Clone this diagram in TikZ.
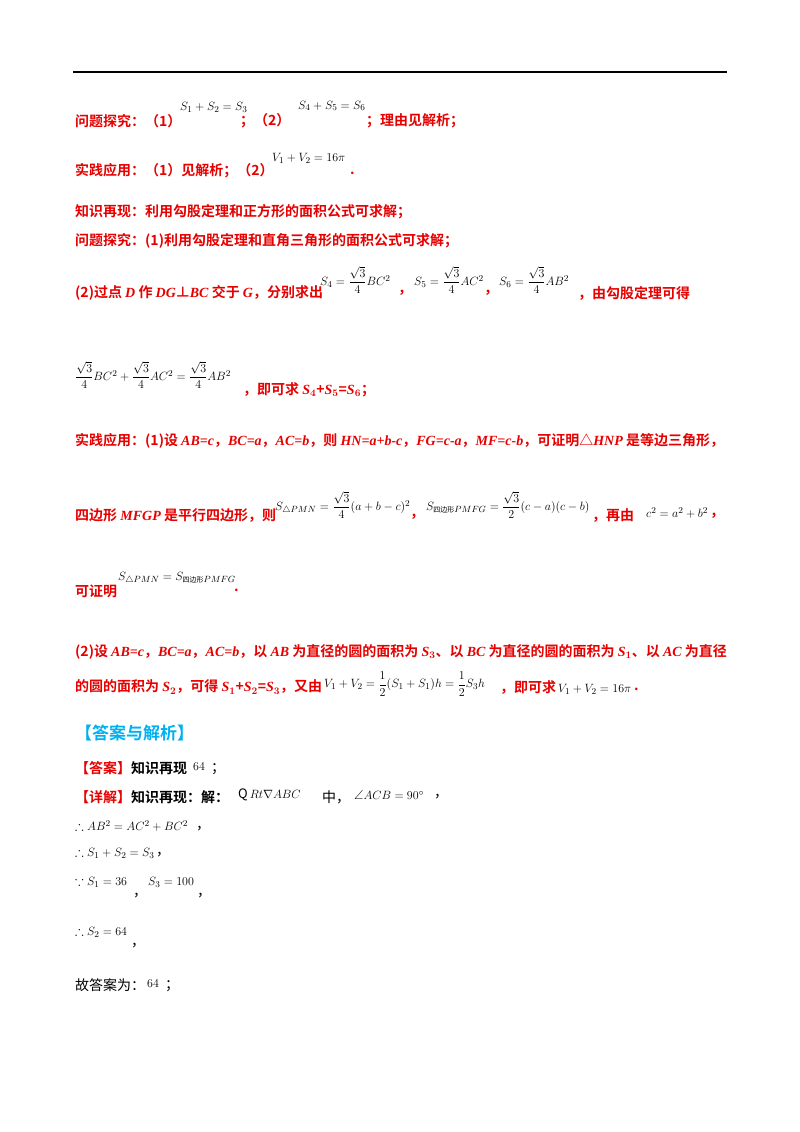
\documentclass[tikz,border=0pt]{standalone}
\usepackage{amsmath,amssymb}
\usepackage{fontspec}
\setmainfont{Noto Sans CJK SC}[BoldFont={* Bold}]
\newfontfamily\tms{Liberation Serif}
\definecolor{ansred}{RGB}{230,0,0}
\definecolor{ansblue}{RGB}{0,176,240}
\newcommand{\en}[1]{{\tms\bfseries\itshape #1}}
\tikzset{
  txt/.style = {anchor = west, inner sep = 0pt, text = ansred, font = \fontsize{14}{16}\selectfont\bfseries},
  plain/.style = {anchor = west, inner sep = 0pt, text = black, font = \fontsize{14}{16}\selectfont},
  frm/.style = {anchor = west, inner sep = 0pt, text = black, font = \fontsize{13}{15}\selectfont}
}
\begin{document}
\begin{tikzpicture}[x = 1pt, y = -1pt]

	% Page frame and top rule

	\useasboundingbox (0, 0) rectangle (800, 1132);
	\draw [line width = 1.2pt] (73, 72) -- (727, 72);

	% Answers to the two questions

	\node [txt] (q1) at (75, 121) {问题探究：（1）};
	\node [frm] (q1f) at (180, 107) {$S_1+S_2=S_3$};
	\node [txt] (q1b) at (240, 121) {；（2）};
	\node [frm] (q2f) at (298, 106) {$S_4+S_5=S_6$};
	\node [txt] (q1c) at (366, 121) {；理由见解析；};

	\node [txt] (p1) at (75, 171) {实践应用：（1）见解析；（2）};
	\node [frm] (p1f) at (272, 158) {$V_1+V_2=16\pi$};
	\node [txt] (p1b) at (350, 173) {.};

	% Analysis

	\node [txt] (k1) at (75, 212) {知识再现：利用勾股定理和正方形的面积公式可求解；};
	\node [txt] (k2) at (75, 241) {问题探究：(1)利用勾股定理和直角三角形的面积公式可求解；};

	\node [txt] (k3) at (75, 293) {(2)过点 \en{D} 作 \en{DG}⊥\en{BC} 交于 \en{G}，分别求出};
	\node [frm] (s4) at (320, 280) {$S_4=\dfrac{\sqrt3}{4}BC^2$};
	\node [txt] (c1) at (398, 293) {，};
	\node [frm] (s5) at (414, 280) {$S_5=\dfrac{\sqrt3}{4}AC^2$};
	\node [txt] (c2) at (484, 293) {，};
	\node [frm] (s6) at (499, 280) {$S_6=\dfrac{\sqrt3}{4}AB^2$};
	\node [txt] (k3b) at (578, 293) {，由勾股定理可得};

	\node [frm] (sum) at (75, 375) {$\dfrac{\sqrt3}{4}BC^2+\dfrac{\sqrt3}{4}AC^2=\dfrac{\sqrt3}{4}AB^2$};
	\node [txt] (k4) at (243, 390) {，即可求 \en{S}$_{\boldsymbol4}$+\en{S}$_{\boldsymbol5}$=\en{S}$_{\boldsymbol6}$；};

	\node [txt] (k5) at (75, 441) {实践应用：(1)设 \en{AB=c}，\en{BC=a}，\en{AC=b}，则 \en{HN=a+b-c}，\en{FG=c-a}，\en{MF=c-b}，可证明△\en{HNP} 是等边三角形，};

	\node [txt] (k6) at (75, 516) {四边形 \en{MFGP} 是平行四边形，则};
	\node [frm] (spmn) at (275, 505) {$S_{\triangle PMN}=\dfrac{\sqrt3}{4}(a+b-c)^2$};
	\node [txt] (c3) at (410, 517) {，};
	\node [frm] (spq) at (426, 505) {$S_{\text{\fontsize{7}{8}\selectfont 四边形}PMFG}=\dfrac{\sqrt3}{2}(c-a)(c-b)$};
	\node [txt] (k6b) at (592, 516) {，再由};
	\node [frm] (pyth) at (646, 513) {$c^2=a^2+b^2$};
	\node [txt] (c4) at (710, 516) {，};

	\node [txt] (k7) at (75, 591) {可证明};
	\node [frm] (eq) at (118, 578) {$S_{\text{$\triangle$}PMN}=S_{\text{\fontsize{7}{8}\selectfont 四边形}PMFG}$};
	\node [txt] (k7b) at (234, 590) {.};

	\node [txt] (k8) at (75, 652) {(2)设 \en{AB=c}，\en{BC=a}，\en{AC=b}，以 \en{AB} 为直径的圆的面积为 \en{S}$_{\boldsymbol3}$、以 \en{BC} 为直径的圆的面积为 \en{S}$_{\boldsymbol1}$、以 \en{AC} 为直径};
	\node [txt] (k9) at (75, 687) {的圆的面积为 \en{S}$_{\boldsymbol2}$，可得 \en{S}$_{\boldsymbol1}$+\en{S}$_{\boldsymbol2}$=\en{S}$_{\boldsymbol3}$，又由};
	\node [frm] (vol) at (324, 684) {$V_1+V_2=\dfrac12(S_1+S_1)h=\dfrac12S_3h$};
	\node [txt] (k9b) at (500, 687) {，即可求};
	\node [frm] (vol2) at (558, 689) {$V_1+V_2=16\pi$};
	\node [txt] (k9c) at (634, 689) {.};

	% Answer and explanation

	\node [anchor = west, inner sep = 0pt, text = ansblue, font = \fontsize{17}{20}\selectfont\bfseries] (head) at (75, 733) {【答案与解析】};

	\node [txt] (ans) at (75, 768) {【答案】\textcolor{black}{知识再现}};
	\node [frm] (ans64) at (193, 767) {$64$};
	\node [plain] (ans2) at (211, 769) {；};

	\node [txt] (det) at (75, 797) {【详解】\textcolor{black}{知识再现：解：}};
	\node [frm] (rt) at (238, 795) {$\mathrm{Q}\,Rt\nabla ABC$};
	\node [plain] (det2) at (322, 797) {中，};
	\node [frm] (ang) at (354, 795) {$\angle ACB=90^\circ$};
	\node [plain] (det3) at (434, 797) {，};

	\node [frm] (l1) at (75, 826) {$\therefore AB^2=AC^2+BC^2$};
	\node [plain] (l1c) at (196, 829) {，};
	\node [frm] (l2) at (75, 853) {$\therefore S_1+S_2=S_3$};
	\node [plain] (l2c) at (156, 855) {，};
	\node [frm] (l3) at (75, 882) {$\because S_1=36$};
	\node [plain] (l3c) at (133, 896) {，};
	\node [frm] (l3b) at (148, 882) {$S_3=100$};
	\node [plain] (l3d) at (197, 896) {，};
	\node [frm] (l4) at (75, 932) {$\therefore S_2=64$};
	\node [plain] (l4c) at (131, 946) {，};

	\node [plain] (fin) at (75, 985) {故答案为：};
	\node [frm] (fin64) at (147, 984) {$64$};
	\node [plain] (fin2) at (165, 986) {；};

\end{tikzpicture}
\end{document}
